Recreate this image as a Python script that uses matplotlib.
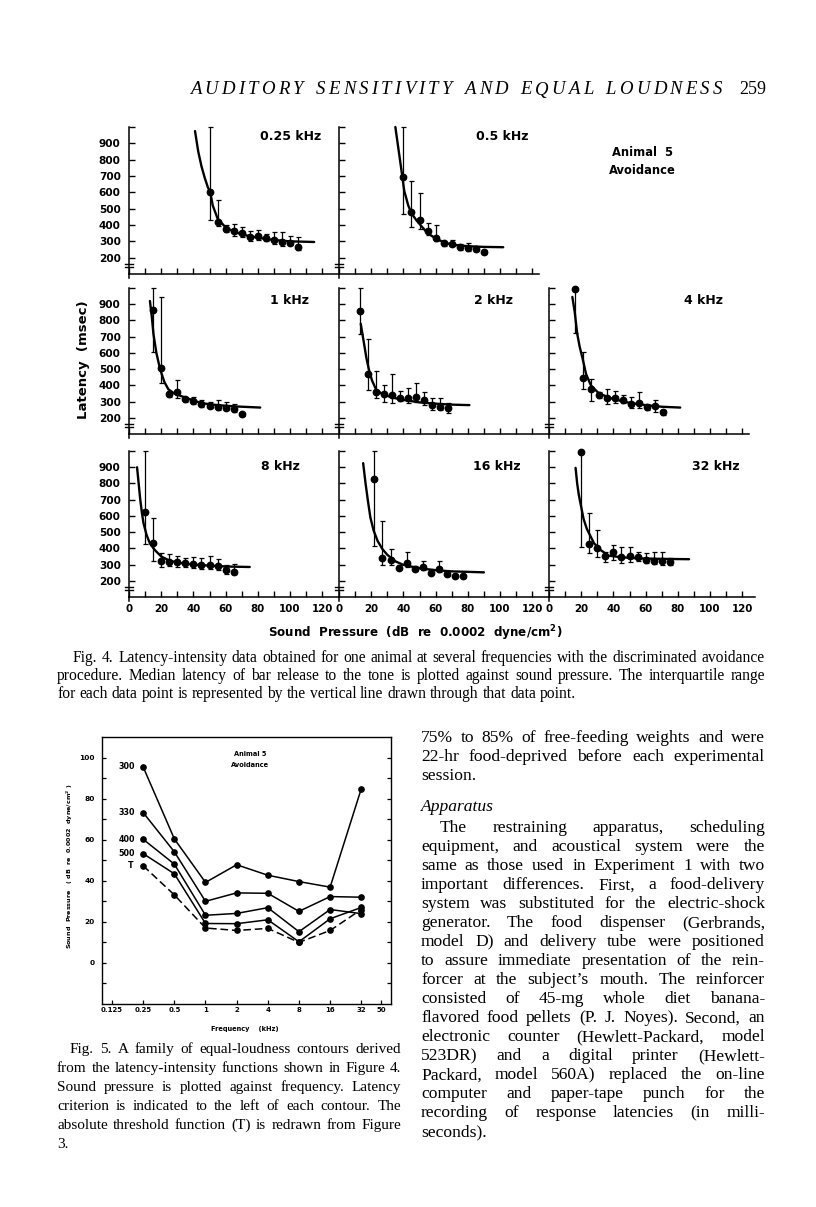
import matplotlib
matplotlib.use("Agg")
import matplotlib.pyplot as plt
import matplotlib.transforms as mtransforms
import numpy as np

W, H = 816, 1207

# ---------------- Fig. 4 data: sound pressure (dB), median latency (msec), interquartile range ----------------
db_025 = [50, 55, 60, 65, 70, 75, 80, 85, 90, 95, 100, 105]
lat_025 = [604, 417, 375, 363, 349, 325, 333, 319, 308, 298, 292, 267]
lo_025 = [430, 395, 355, 330, 325, 305, 310, 300, 285, 270, 275, 250]
hi_025 = [1000, 553, 400, 406, 385, 365, 370, 345, 355, 357, 330, 325]
fitx_025 = [41, 43, 45, 47, 49, 50.5, 52, 55, 60, 65, 70, 80, 90, 100, 115]
fity_025 = [975, 850, 760, 690, 630, 600, 520, 440, 385, 360, 342, 322, 308, 300, 296]

db_05 = [40, 45, 50, 55, 60, 65, 70, 75, 80, 85, 90]
lat_05 = [692, 481, 431, 363, 319, 288, 284, 264, 257, 251, 235]
lo_05 = [465, 390, 375, 339, 302, 271, 272, 250, 240, 240, 225]
hi_05 = [1000, 669, 598, 410, 400, 304, 306, 285, 290, 265, 250]
fitx_05 = [35, 37, 39, 40.5, 43, 45, 48, 51, 55, 60, 65, 70, 80, 90, 102]
fity_05 = [1000, 860, 720, 610, 520, 472, 430, 395, 350, 318, 295, 280, 270, 266, 264]

db_1 = [15, 20, 25, 30, 35, 40, 45, 50, 55, 60, 65, 70]
lat_1 = [865, 509, 348, 361, 313, 303, 282, 272, 268, 262, 256, 221]
lo_1 = [605, 416, 330, 324, 295, 288, 268, 258, 250, 245, 238, 212]
hi_1 = [1000, 947, 368, 432, 330, 325, 312, 300, 310, 295, 285, 232]
fitx_1 = [13, 14.2, 15.2, 17, 19.3, 22, 24.5, 28, 34.8, 45, 55, 66, 81.5]
fity_1 = [920, 820, 715, 600, 500, 420, 375, 350, 325, 290, 278, 270, 263]

db_2 = [13, 18, 23, 28, 33, 38, 43, 48, 53, 58, 63, 68]
lat_2 = [859, 472, 358, 344, 340, 319, 324, 330, 309, 276, 266, 262]
lo_2 = [715, 369, 324, 297, 293, 303, 289, 297, 276, 251, 245, 231]
hi_2 = [1000, 688, 488, 400, 472, 365, 386, 412, 358, 324, 324, 289]
fitx_2 = [13.5, 15, 17, 18.5, 20.5, 23, 27, 33, 40, 50, 60, 70, 81]
fity_2 = [780, 690, 570, 500, 430, 375, 345, 325, 310, 295, 287, 281, 278]

db_4 = [16, 21, 26, 31, 36, 41, 46, 51, 56, 61, 66, 71]
lat_4 = [995, 447, 375, 338, 324, 319, 309, 282, 293, 266, 272, 235]
lo_4 = [725, 375, 303, 320, 282, 293, 290, 262, 262, 250, 235, 220]
hi_4 = [995, 605, 437, 360, 379, 365, 340, 330, 358, 285, 309, 250]
fitx_4 = [14.5, 16, 17.5, 19, 21, 23, 26, 31, 40, 50, 60, 70, 81.5]
fity_4 = [945, 850, 720, 640, 560, 470, 400, 350, 315, 292, 278, 268, 263]

db_8 = [10, 15, 20, 25, 30, 35, 40, 45, 50, 55, 60, 65]
lat_8 = [624, 431, 324, 314, 314, 308, 304, 298, 298, 294, 267, 257]
lo_8 = [425, 324, 284, 290, 285, 285, 280, 275, 270, 265, 240, 240]
hi_8 = [1000, 590, 369, 365, 350, 340, 345, 340, 355, 335, 300, 305]
fitx_8 = [5, 6, 7, 8, 9, 11, 13, 16, 20, 25, 30, 40, 50, 60, 75]
fity_8 = [900, 800, 700, 620, 555, 480, 430, 390, 350, 325, 312, 300, 293, 288, 285]

db_16 = [22, 27, 32, 37, 42, 47, 52, 57, 62, 67, 72, 77]
lat_16 = [830, 339, 329, 278, 308, 271, 284, 251, 273, 241, 231, 227]
lo_16 = [415, 298, 298, 270, 288, 260, 265, 240, 255, 230, 225, 220]
hi_16 = [1000, 570, 394, 300, 380, 290, 320, 270, 320, 260, 240, 235]
fitx_16 = [15, 16.5, 18, 19.5, 21.5, 24, 27, 30, 35, 40, 50, 60, 70, 90]
fity_16 = [925, 800, 690, 590, 510, 445, 395, 360, 320, 298, 277, 265, 258, 252]

db_32 = [20, 25, 30, 35, 40, 45, 50, 55, 60, 65, 70, 75]
lat_32 = [995, 426, 400, 355, 380, 349, 355, 345, 329, 324, 324, 314]
lo_32 = [410, 369, 349, 318, 329, 312, 318, 325, 310, 305, 300, 300]
hi_32 = [995, 618, 512, 380, 420, 410, 406, 380, 370, 375, 375, 340]
fitx_32 = [16.5, 17.5, 18.5, 20, 21.5, 23.5, 26, 28, 32, 37, 45, 55, 70, 87]
fity_32 = [896, 800, 730, 655, 580, 520, 470, 431, 390, 355, 345, 338, 335, 333]

# ---------------- Fig. 5 data: equal-loudness contours (dB) ----------------
freq5 = [0.25, 0.5, 1, 2, 4, 8, 16, 32]
c300 = [95.4, 60.4, 39.2, 47.8, 42.7, 39.6, 36.9, 84.8]
c330 = [73.2, 54.1, 30.0, 34.1, 33.9, 25.1, 32.3, 32.0]
c400 = [60.2, 48.1, 23.2, 24.1, 26.9, 15.2, 26.0, 24.0]
c500 = [53.2, 43.4, 19.2, 19.1, 21.0, 10.3, 21.5, 27.0]
thresh = [47.3, 33.1, 17.0, 15.8, 16.8, 10.0, 15.8, 26.0]
f5_ticks = [0.125, 0.25, 0.5, 1, 2, 4, 8, 16, 32, 50]
f5_labels = ["0.125", "0.25", "0.5", "1", "2", "4", "8", "16", "32", "50"]

# ---------------- page text ----------------
header = "AUDITORY SENSITIVITY AND EQUAL LOUDNESS"
page_no = "259"
cap4 = ["Fig. 4. Latency-intensity data obtained for one animal at several frequencies with the discriminated avoidance",
        "procedure. Median latency of bar release to the tone is plotted against sound pressure. The interquartile range",
        "for each data point is represented by the vertical line drawn through that data point."]
cap5 = ["Fig. 5. A family of equal-loudness contours derived",
        "from the latency-intensity functions shown in Figure 4.",
        "Sound pressure is plotted against frequency. Latency",
        "criterion is indicated to the left of each contour. The",
        "absolute threshold function (T) is redrawn from Figure",
        "3."]
para1 = ["75% to 85% of free-feeding weights and were",
         "22-hr food-deprived before each experimental",
         "session."]
para2 = ["The restraining apparatus, scheduling",
         "equipment, and acoustical system were the",
         "same as those used in Experiment 1 with two",
         "important differences. First, a food-delivery",
         "system was substituted for the electric-shock",
         "generator. The food dispenser (Gerbrands,",
         "model D) and delivery tube were positioned",
         "to assure immediate presentation of the rein-",
         "forcer at the subject\u2019s mouth. The reinforcer",
         "consisted of 45-mg whole diet banana-",
         "flavored food pellets (P. J. Noyes). Second, an",
         "electronic counter (Hewlett-Packard, model",
         "523DR) and a digital printer (Hewlett-",
         "Packard, model 560A) replaced the on-line",
         "computer and paper-tape punch for the",
         "recording of response latencies (in milli-",
         "seconds)."]

SANS = "DejaVu Sans"
SERIF = "Liberation Serif"

fig = plt.figure(figsize=(W / 100, H / 100), dpi=100)
fig.patch.set_facecolor("white")
renderer = fig.canvas.get_renderer()
PIX = mtransforms.IdentityTransform()


def rect(x0, y0, x1, y1):
    return [x0 / W, 1 - y1 / H, (x1 - x0) / W, (y1 - y0) / H]


def ftext(x, y, s, **kw):
    return fig.text(x / W, 1 - y / H, s, **kw)


def put_line(s, x0, x1, y, justify=True, fontsize=10, **kw):
    # y is the middle of the line; words sit on a common baseline
    base = H - (y + 0.3 * fontsize * 100 / 72)
    words = s.split()
    arts = [fig.text(0, base, w, transform=PIX, va="baseline", ha="left",
                     fontsize=fontsize, **kw) for w in words]
    size = fontsize
    while True:
        widths = [a.get_window_extent(renderer).width for a in arts]
        space = 0.22 * size * 100 / 72
        if not justify or len(words) < 2 or sum(widths) + (len(words) - 1) * space <= x1 - x0:
            break
        size -= 0.1
        for a in arts:
            a.set_fontsize(size)
    if justify and len(words) > 1:
        gap = (x1 - x0 - sum(widths)) / (len(words) - 1)
    else:
        gap = 0.25 * size * 100 / 72
    x = x0
    for a, w in zip(arts, widths):
        a.set_x(x)
        x += w + gap


def put_spaced(s, x0, x1, y, **kw):
    size = kw.get("fontsize", 10)
    arts, widths = [], []
    for ch in s:
        a = fig.text(0, H - y, ch, transform=PIX, va="center_baseline", ha="left", **kw)
        arts.append(a)
        widths.append(0.3 * size * 100 / 72 if ch == " " else a.get_window_extent(renderer).width)
    gap = (x1 - x0 - sum(widths)) / (len(s) - 1)
    x = x0
    for a, w in zip(arts, widths):
        a.set_x(x)
        x += w + gap


# ---------------- Fig. 4 panels ----------------
COL_X = [129, 339, 549]
ROW_Y = [(127, 274), (288, 434), (451, 597)]
PX_PER_DB = 1.61


def panel(row, col, width, db, lat, lo, hi, fx, fy, title, title_xy):
    x0 = COL_X[col]
    y0, y1 = ROW_Y[row]
    ax = fig.add_axes(rect(x0, y0, x0 + width, y1))
    ax.set_xlim(0, width / PX_PER_DB)
    ax.set_ylim(100, 1000)
    ax.patch.set_alpha(0)
    for s in ["top", "right"]:
        ax.spines[s].set_visible(False)
    for s in ["left", "bottom"]:
        ax.spines[s].set_linewidth(1.1)
    ax.set_xticks(range(0, 121, 10))
    ax.set_yticks(range(200, 1001, 100))
    ax.tick_params(direction="in", length=4, width=1.0, pad=6)
    if col == 0:
        ax.set_yticklabels([str(v) if v < 1000 else "" for v in range(200, 1001, 100)],
                           fontfamily=SANS, fontweight="bold", fontsize=7.6)
    else:
        ax.set_yticklabels([])
    if row == 2:
        ax.set_xticklabels([str(v) if v % 20 == 0 else "" for v in range(0, 121, 10)],
                           fontfamily=SANS, fontweight="bold", fontsize=7.4)
        ax.tick_params(axis="x", pad=5)
    else:
        ax.set_xticklabels([])

    # axis break on the latency scale
    tr = mtransforms.blended_transform_factory(ax.transAxes, ax.transData)
    for yv in (163, 145):
        ax.plot([-0.018, 0.018], [yv, yv], transform=tr, color="black", lw=1.0, clip_on=False)
    ax.plot([0, 0], [0, -0.03], transform=ax.transAxes, color="black", lw=1.1, clip_on=False)

    lat = np.array(lat)
    yerr = [lat - np.array(lo), np.array(hi) - lat]
    cont = ax.errorbar(db, lat, yerr=yerr, fmt="o", color="black", ms=4.6,
                       elinewidth=0.9, capsize=1.8, capthick=0.9)
    for art in cont.get_children():
        art.set_clip_on(False)
    ax.plot(fx, fy, color="black", lw=1.7, solid_capstyle="round", clip_on=False)
    ftext(title_xy[0], title_xy[1], title, ha="right", va="center",
          fontfamily=SANS, fontweight="bold", fontsize=9)
    return ax


panel(0, 0, 210, db_025, lat_025, lo_025, hi_025, fitx_025, fity_025, "0.25 kHz", (321, 137))
panel(0, 1, 200, db_05, lat_05, lo_05, hi_05, fitx_05, fity_05, "0.5 kHz", (529, 137))
panel(1, 0, 210, db_1, lat_1, lo_1, hi_1, fitx_1, fity_1, "1 kHz", (309, 300))
panel(1, 1, 210, db_2, lat_2, lo_2, hi_2, fitx_2, fity_2, "2 kHz", (513, 300))
panel(1, 2, 200, db_4, lat_4, lo_4, hi_4, fitx_4, fity_4, "4 kHz", (723, 300))
panel(2, 0, 210, db_8, lat_8, lo_8, hi_8, fitx_8, fity_8, "8 kHz", (300, 467))
panel(2, 1, 210, db_16, lat_16, lo_16, hi_16, fitx_16, fity_16, "16 kHz", (521, 467))
panel(2, 2, 206, db_32, lat_32, lo_32, hi_32, fitx_32, fity_32, "32 kHz", (740, 467))

ftext(642, 152, "Animal  5", ha="center", va="center", fontfamily=SANS, fontweight="bold", fontsize=8.3)
ftext(642, 170, "Avoidance", ha="center", va="center", fontfamily=SANS, fontweight="bold", fontsize=8.3)
ftext(84, 360, "Latency  (msec)", ha="center", va="center", rotation=90,
      fontfamily=SANS, fontweight="bold", fontsize=9.5)
ftext(415, 633, "Sound  Pressure  (dB  re  0.0002  dyne/cm$^{\\mathbf{2}}$)", ha="center", va="center",
      fontfamily=SANS, fontweight="bold", fontsize=8.6)

# ---------------- Fig. 5 ----------------
ax5 = fig.add_axes(rect(102, 737, 391, 1004))
ax5.set_xscale("log", base=2)
ax5.set_xlim(0.1, 62)
ax5.set_ylim(-20, 110)
for s in ax5.spines.values():
    s.set_linewidth(1.0)
ax5.set_xticks(f5_ticks)
ax5.set_xticklabels(f5_labels, fontfamily=SANS, fontweight="bold", fontsize=5)
ax5.xaxis.set_minor_locator(matplotlib.ticker.NullLocator())
yt = list(range(-10, 101, 10))
ax5.set_yticks(yt)
ax5.set_yticklabels([str(v) if v >= 0 and v % 20 == 0 else "" for v in yt],
                    fontfamily=SANS, fontweight="bold", fontsize=5.3)
ax5.tick_params(direction="in", length=3, width=0.9)
ax5.tick_params(axis="y", left=True, right=True, pad=5)
ax5.tick_params(axis="x", pad=2)

for vals, lab in [(c300, "300"), (c330, "330"), (c400, "400"), (c500, "500")]:
    ax5.plot(freq5, vals, color="black", lw=1.1, marker="o", ms=3.8)
    ax5.annotate(lab, (freq5[0], vals[0]), xytext=(-6, 0), textcoords="offset points",
                 ha="right", va="center", fontfamily=SANS, fontweight="bold", fontsize=5.8)
ax5.plot(freq5, thresh, color="black", lw=1.1, ls=(0, (5, 2.5)), marker="o", ms=3.8)
ax5.annotate("T", (freq5[0], thresh[0]), xytext=(-7, 0), textcoords="offset points",
             ha="right", va="center", fontfamily=SANS, fontweight="bold", fontsize=5.8)
ax5.text(0.512, 0.935, "Animal 5", transform=ax5.transAxes, ha="center", va="center",
         fontfamily=SANS, fontweight="bold", fontsize=4.8)
ax5.text(0.512, 0.895, "Avoidance", transform=ax5.transAxes, ha="center", va="center",
         fontfamily=SANS, fontweight="bold", fontsize=4.8)
ftext(70, 866, "Sound  Pressure   ( dB  re  0.0002  dyne/cm$^{\\mathbf{2}}$ )", ha="center", va="center",
      rotation=90, fontfamily=SANS, fontweight="bold", fontsize=4.6)
ftext(245, 1029, "Frequency    (kHz)", ha="center", va="center",
      fontfamily=SANS, fontweight="bold", fontsize=4.8)

# ---------------- page text ----------------
put_spaced(header, 190, 722, 88, fontfamily=SERIF, fontstyle="italic", fontsize=13.5)
ftext(766, 88, page_no, ha="right", va="center_baseline", fontfamily=SERIF, fontsize=13)

for i, line in enumerate(cap4):
    put_line(line, 73 if i == 0 else 57, 765, 657 + 18 * i, justify=(i < len(cap4) - 1),
             fontfamily=SERIF, fontsize=11.2)

for i, line in enumerate(cap5):
    put_line(line, 70 if i == 0 else 57, 401, 1048 + 19 * i, justify=(i < len(cap5) - 1),
             fontfamily=SERIF, fontsize=11.0)

for i, line in enumerate(para1):
    put_line(line, 421, 765, 737 + 19 * i, justify=(i < len(para1) - 1),
             fontfamily=SERIF, fontsize=12.6)
put_line("Apparatus", 421, 765, 806, justify=False, fontfamily=SERIF, fontstyle="italic", fontsize=12.6)
for i, line in enumerate(para2):
    put_line(line, 440 if i == 0 else 421, 765, 827 + 19 * i, justify=(i < len(para2) - 1),
             fontfamily=SERIF, fontsize=12.6)

fig.savefig("out.png", dpi=100)
